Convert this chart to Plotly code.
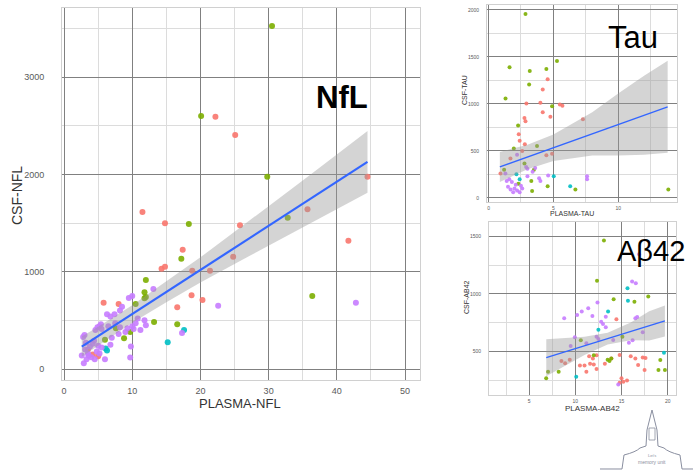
import plotly.graph_objects as go

W, H = 693, 471
COLORS = {"r": "#F8766D", "g": "#7CAE00", "c": "#00BFC4", "p": "#C77CFF"}

# ---------------- NfL (main panel) ----------------
nfl_red_x = [22.2, 25.1, 44.5, 11.5, 14.8, 25.8, 35.7, 41.7, 17.4, 24.8, 14.3, 14.8, 21.4, 18.8, 18.7, 20.3, 16.6, 5.8, 8.0, 3.5, 4.2, 5.0]
nfl_red_y = [2593, 2405, 1976, 1614, 1497, 1477, 1641, 1319, 1226, 1154, 1031, 1051, 1010, 1010, 757, 709, 634, 682, 668, 200, 150, 130]
nfl_green_x = [30.5, 20.1, 29.8, 18.3, 32.8, 17.2, 12.0, 11.8, 11.8, 10.5, 13.2, 16.6, 36.4, 8.8, 7.6, 9.7, 6.0, 12.0]
nfl_green_y = [3525, 2600, 1976, 1490, 1555, 1134, 915, 788, 727, 668, 483, 459, 750, 315, 418, 380, 300, 740]
nfl_cyan_x = [17.6, 15.2, 6.1, 6.3]
nfl_cyan_y = [401, 274, 212, 190]
nfl_purple_x = [13.1, 10.0, 9.5, 22.6, 17.3, 42.8, 9.8, 9.7, 6.3, 7.4, 5.2, 5.4, 4.9, 4.6, 5.5, 6.8, 8.5, 8.2, 10.5, 10.8, 11.8, 12.0, 11.2, 10.2, 9.0, 8.0, 7.0, 6.8, 6.0, 5.5, 5.0, 4.4, 4.2, 3.8, 3.2, 3.0, 2.8, 2.6, 2.9, 3.3, 3.5, 4.0, 4.8, 5.2, 4.5, 3.6, 3.1, 6.5, 7.5, 8.2, 9.3, 10.0]
nfl_purple_y = [822, 750, 730, 651, 370, 682, 232, 119, 563, 563, 440, 460, 430, 400, 410, 540, 640, 600, 470, 520, 500, 450, 400, 410, 380, 360, 320, 250, 100, 220, 240, 290, 260, 230, 270, 350, 330, 140, 60, 100, 160, 120, 180, 160, 100, 140, 200, 440, 470, 430, 420, 440]
nfl_fit_x = [2.6, 5, 10, 15, 20, 25, 30, 35, 40, 44.5]
nfl_fit_y = [230, 339, 565, 792, 1018, 1245, 1471, 1698, 1924, 2128]
nfl_fit_lo = [125, 244, 475, 687, 888, 1080, 1271, 1458, 1644, 1811]
nfl_fit_hi = [335, 434, 655, 897, 1148, 1410, 1671, 1938, 2204, 2445]

# ---------------- Tau ----------------
tau_red_x = [4.56, 4.18, 2.92, 4.0, 5.5, 5.7, 4.18, 4.77, 7.28, 2.77, 2.85, 2.33, 2.4, 2.8, 4.46, 1.69, 0.92, 2.6, 4.9]
tau_red_y = [1262, 1155, 1006, 1013, 995, 980, 913, 863, 838, 852, 816, 679, 608, 571, 455, 420, 260, 500, 470]
tau_green_x = [2.85, 5.28, 1.62, 3.18, 4.46, 3.13, 1.31, 4.9, 2.28, 1.95, 3.74, 2.77, 3.3, 4.56, 6.7, 13.87, 3.36, 3.5, 1.2, 2.3]
tau_green_y = [1958, 1457, 1390, 1351, 1372, 1208, 1059, 977, 771, 526, 554, 366, 180, 125, 89, 89, 75, 300, 300, 150]
tau_cyan_x = [2.15, 5.03, 6.3, 2.4]
tau_cyan_y = [253, 231, 125, 200]
tau_purple_x = [1.3, 1.6, 1.5, 1.7, 1.9, 2.0, 2.2, 2.1, 2.5, 2.4, 2.6, 1.8, 2.9, 3.0, 3.4, 3.6, 3.9, 4.0, 7.6, 7.6, 4.6, 2.2, 3.0, 1.4]
tau_purple_y = [260, 200, 120, 90, 60, 100, 80, 140, 130, 60, 100, 170, 330, 310, 280, 320, 210, 180, 230, 200, 240, 460, 230, 180]
tau_fit_x = [0.87, 3, 5, 8, 10, 12, 13.82]
tau_fit_y = [330, 435, 534, 682, 781, 880, 970]
tau_fit_lo = [170, 305, 394, 452, 451, 460, 480]
tau_fit_hi = [490, 565, 674, 912, 1111, 1300, 1460]

# ---------------- Abeta42 ----------------
ab_red_x = [14.45, 11.5, 11.9, 12.3, 8.5, 8.9, 9.4, 11.0, 11.6, 12.0, 13.2, 14.8, 16.0, 16.5, 17.3, 17.6, 16.8, 17.5, 11.2, 12.3, 15.0, 15.2, 14.8, 15.6, 10.5, 13.9]
ab_red_y = [781, 460, 440, 470, 420, 400, 430, 380, 395, 390, 395, 471, 460, 440, 450, 445, 385, 341, 327, 350, 270, 240, 230, 250, 380, 440]
ab_green_x = [13.1, 12.35, 17.9, 14.15, 16.4, 15.1, 13.5, 13.7, 13.9, 19.0, 19.7, 19.2, 7.05, 6.85, 8.2, 12.0, 10.6]
ab_green_y = [1462, 1115, 977, 954, 933, 630, 430, 420, 440, 341, 341, 428, 327, 269, 327, 470, 600]
ab_cyan_x = [15.65, 15.7, 13.55, 19.6, 10.1, 12.5]
ab_cyan_y = [1049, 942, 847, 491, 283, 690]
ab_purple_x = [16.9, 16.15, 16.55, 12.4, 11.4, 10.7, 10.2, 11.85, 13.3, 8.8, 12.8, 13.0, 16.5, 16.7, 13.3, 9.95, 12.3, 12.5, 14.1, 11.2, 17.3, 15.8, 14.65, 16.2, 9.5]
ab_purple_y = [1344, 1107, 1093, 925, 876, 847, 818, 809, 803, 790, 760, 740, 790, 800, 711, 625, 630, 610, 601, 573, 668, 578, 217, 600, 550]
ab_fit_x = [6.86, 9, 11, 13.5, 16, 18, 19.7]
ab_fit_y = [448, 501, 551, 613, 676, 724, 766]
ab_fit_lo = [288, 383, 472, 563, 600, 597, 631]
ab_fit_hi = [608, 619, 630, 663, 752, 851, 901]

fig = go.Figure()


def add_panel(xa, ya, groups, fit, msize, lw):
    for key, xs, ys in groups:
        fig.add_trace(go.Scatter(x=xs, y=ys, mode="markers", xaxis=xa, yaxis=ya,
                                 marker=dict(color=COLORS[key], size=msize, opacity=0.9),
                                 showlegend=False, hoverinfo="skip"))
    fx, fy, lo, hi = fit
    fig.add_trace(go.Scatter(x=fx + fx[::-1], y=hi + lo[::-1], xaxis=xa, yaxis=ya,
                             fill="toself", fillcolor="rgba(153,153,153,0.42)",
                             line=dict(width=0), mode="lines", showlegend=False, hoverinfo="skip"))
    fig.add_trace(go.Scatter(x=fx, y=fy, xaxis=xa, yaxis=ya, mode="lines",
                             line=dict(color="#3366FF", width=lw), showlegend=False, hoverinfo="skip"))


add_panel("x", "y", [("r", nfl_red_x, nfl_red_y), ("g", nfl_green_x, nfl_green_y),
                     ("c", nfl_cyan_x, nfl_cyan_y), ("p", nfl_purple_x, nfl_purple_y)],
          (nfl_fit_x, nfl_fit_y, nfl_fit_lo, nfl_fit_hi), 6, 2.2)
add_panel("x2", "y2", [("r", tau_red_x, tau_red_y), ("g", tau_green_x, tau_green_y),
                       ("c", tau_cyan_x, tau_cyan_y), ("p", tau_purple_x, tau_purple_y)],
          (tau_fit_x, tau_fit_y, tau_fit_lo, tau_fit_hi), 4, 1.3)
add_panel("x3", "y3", [("r", ab_red_x, ab_red_y), ("g", ab_green_x, ab_green_y),
                       ("c", ab_cyan_x, ab_cyan_y), ("p", ab_purple_x, ab_purple_y)],
          (ab_fit_x, ab_fit_y, ab_fit_lo, ab_fit_hi), 4, 1.3)


def px_x(a, b):
    return [a / W, b / W]


def px_y(top, bottom):
    return [1 - bottom / H, 1 - top / H]


MAJ = "#808080"
MIN = "#dcdcdc"


def ax(domain, rng, dtick, minor, fsize, standoff, anchor, tick0=0):
    return dict(domain=domain, range=rng, dtick=dtick, tick0=tick0, anchor=anchor,
                showgrid=True, gridcolor=MAJ, gridwidth=1,
                minor=dict(dtick=minor, showgrid=True, gridcolor=MIN, gridwidth=1),
                zeroline=False, showline=True, linecolor="#d0d0d0", linewidth=1, mirror=True,
                ticks="", tickfont=dict(family="Liberation Sans", size=fsize, color="#5a5a5a"),
                ticklabelstandoff=standoff, fixedrange=True)


fig.update_layout(
    width=W, height=H, margin=dict(l=0, r=0, t=0, b=0),
    paper_bgcolor="white", plot_bgcolor="white",
    xaxis=ax(px_x(62, 420), [-0.3, 52.2], 10, 5, 9, 2, "y"),
    yaxis=ax(px_y(8, 380), [-113, 3710], 1000, 500, 9, 15, "x"),
    xaxis2=ax(px_x(487, 677), [-0.12, 14.54], 5, 2.5, 5, 1, "y2"),
    yaxis2=ax(px_y(5, 202), [-43, 2053], 500, 250, 5, 6, "x2"),
    xaxis3=ax(px_x(489, 676), [0.66, 20.9], 5, 2.5, 5, 1, "y3"),
    yaxis3=ax(px_y(222, 395), [125, 1623], 500, 250, 5, 6, "x3"),
)


def txt(x, y, s, size, color="#333333", angle=0, bold=False, family="Liberation Sans"):
    fig.add_annotation(x=x / W, y=1 - y / H, xref="paper", yref="paper", text=(f"<b>{s}</b>" if bold else s),
                       showarrow=False, textangle=angle, xanchor="center", yanchor="middle",
                       font=dict(family=family, size=size, color=color))


# axis titles
txt(17, 196, "CSF-NFL", 14, angle=-90)
txt(240, 403, "PLASMA-NFL", 13)
txt(465, 90, "CSF-TAU", 7, angle=-90)
txt(572, 213, "PLASMA-TAU", 7)
txt(466, 297, "CSF-AB42", 7, angle=-90)
txt(592, 408, "PLASMA-AB42", 8)

# big panel labels
txt(342, 98, "NfL", 31, color="black", bold=True)
txt(633, 38, "Tau", 31, color="black")
txt(651, 251, "Aβ42", 29, color="black")

# small logo (line drawing)
logo = "#8a8fa0"
path = ("M 600 469 L 622 469 L 624 455 Q 636 452 640 448 L 646 446 L 647 430 L 650 418 L 652 410 "
        "L 654 418 L 657 430 L 658 446 L 664 448 Q 668 452 680 455 L 682 469 L 693 469")
pts = path.split()
conv = []
i = 0
while i < len(pts):
    tok = pts[i]
    if tok in ("M", "L", "Q"):
        conv.append(tok)
        i += 1
        continue
    xv = float(pts[i]) / W
    yv = 1 - float(pts[i + 1]) / H
    conv.append(f"{xv:.5f},{yv:.5f}")
    i += 2
fig.add_shape(type="path", xref="paper", yref="paper", path=" ".join(conv),
              line=dict(color=logo, width=1))
fig.add_shape(type="rect", xref="paper", yref="paper", x0=649 / W, x1=655 / W, y0=1 - 440 / H, y1=1 - 428 / H,
              line=dict(color=logo, width=0.8))
txt(652, 455, "Let's", 4, color=logo)
txt(652, 462, "memory unit", 5, color=logo)

fig.write_html("out.html", config={"displayModeBar": False},
               post_script="document.body.style.margin='0';document.body.style.overflow='hidden';")
